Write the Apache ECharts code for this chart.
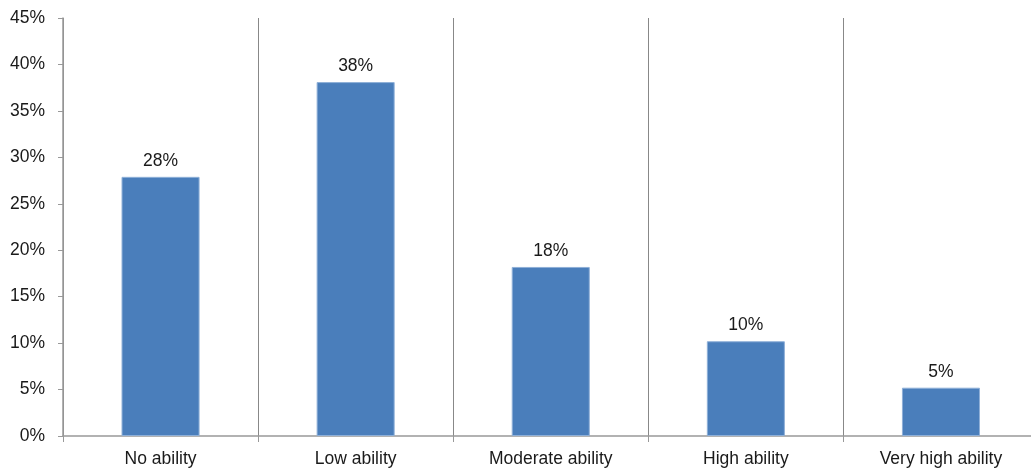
<!DOCTYPE html>
<html><head><meta charset="utf-8">
<script src="https://cdn.jsdelivr.net/npm/echarts@6/dist/echarts.min.js"></script>
<style>html,body{margin:0;padding:0;background:#fff}#c{width:1031px;height:468px}</style>
</head><body><div id="c"></div>
<script>
var categories = ["No ability", "Low ability", "Moderate ability", "High ability", "Very high ability"];
var values = [27.9, 38.1, 18.2, 10.2, 5.2];
var yTicks = [0, 5, 10, 15, 20, 25, 30, 35, 40, 45];

var chart = echarts.init(document.getElementById('c'));
chart.setOption({
  animation: false,
  textStyle: { fontFamily: 'Liberation Sans, Arial, sans-serif' },
  grid: { left: 63, width: 975.5, top: 18, height: 418, containLabel: false, outerBoundsMode: 'none' },
  xAxis: {
    type: 'category',
    data: categories,
    axisLine: { lineStyle: { color: '#999', width: 1.5 } },
    axisTick: { show: true, alignWithLabel: false, length: 6, lineStyle: { color: '#999' } },
    splitLine: { show: true, lineStyle: { color: '#888', width: 1 } },
    axisLabel: { color: '#1a1a1a', fontSize: 17.5, margin: 14 }
  },
  yAxis: {
    type: 'value',
    min: yTicks[0], max: yTicks[yTicks.length - 1], interval: 5,
    axisLine: { show: true, lineStyle: { color: '#999', width: 1.5 } },
    axisTick: { show: true, length: 5, lineStyle: { color: '#999' } },
    splitLine: { show: false },
    axisLabel: { color: '#1a1a1a', fontSize: 17.5, margin: 18, formatter: function (v) { return v + '%'; } }
  },
  series: [{
    type: 'bar',
    data: values,
    barWidth: '40%',
    itemStyle: { color: '#4a7ebb', borderColor: '#8fb0d8', borderWidth: 1 },
    label: {
      show: true, position: 'top', distance: 7, color: '#1a1a1a', fontSize: 17.5,
      formatter: function (p) { return Math.round(p.value) + '%'; }
    }
  }]
});
</script></body></html>
